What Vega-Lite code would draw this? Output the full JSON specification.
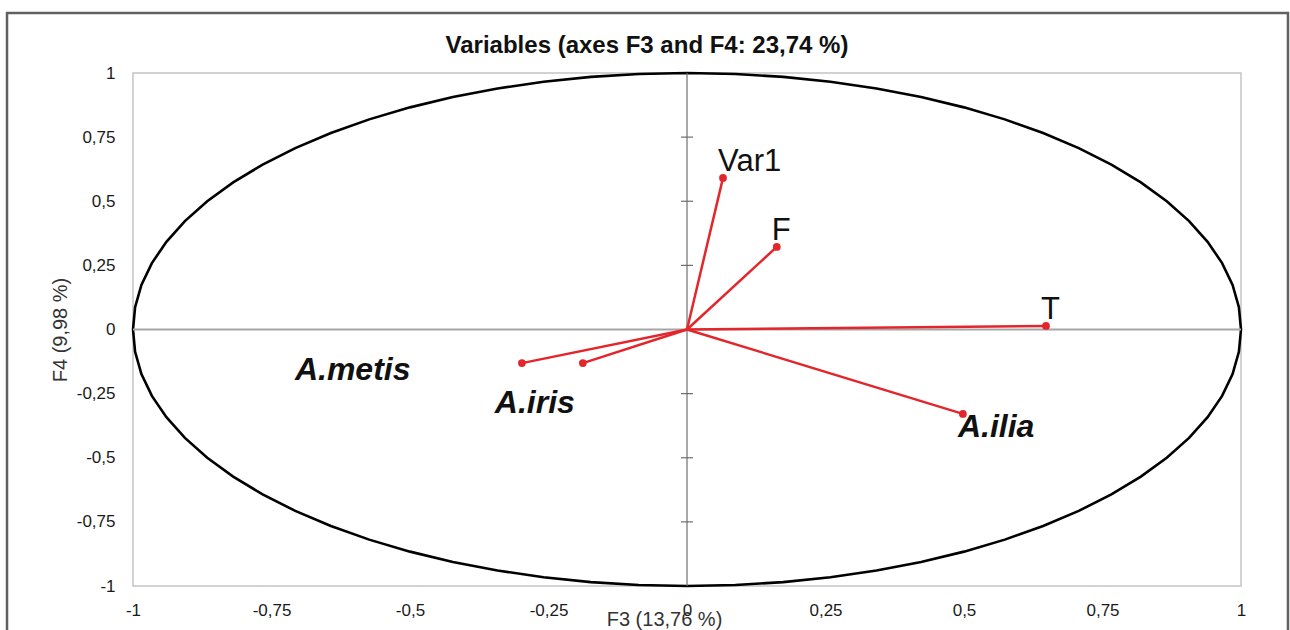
{
  "$schema": "https://vega.github.io/schema/vega-lite/v6.json",
  "autosize": "none",
  "width": 1108,
  "height": 513,
  "padding": {"left": 133, "top": 73, "right": 49, "bottom": 44},
  "background": "white",
  "title": {
    "text": "Variables (axes F3 and F4: 23,74 %)",
    "font": "Liberation Sans",
    "fontSize": 24,
    "fontWeight": "bold",
    "color": "#111111",
    "anchor": "middle",
    "frame": "group",
    "dx": -40,
    "baseline": "alphabetic",
    "offset": -65
  },
  "data": {"values": [{"origin": 0}]},
  "datasets": {
    "vars": [
      {"name": "Var1", "kind": "var", "x": 0.065, "y": 0.591},
      {"name": "F", "kind": "var", "x": 0.162, "y": 0.322},
      {"name": "T", "kind": "var", "x": 0.648, "y": 0.014},
      {"name": "A.ilia", "kind": "species", "x": 0.498, "y": -0.329},
      {"name": "A.metis", "kind": "species", "x": -0.298, "y": -0.131},
      {"name": "A.iris", "kind": "species", "x": -0.188, "y": -0.131}
    ],
    "ticks": [
      {"v": -0.75}, {"v": -0.5}, {"v": -0.25}, {"v": 0.25}, {"v": 0.5}, {"v": 0.75}
    ],
    "circle": [
      {"a": 0, "cx": 1, "cy": 0}, {"a": 5, "cx": 0.9962, "cy": 0.0872}, {"a": 10, "cx": 0.9848, "cy": 0.1736},
      {"a": 15, "cx": 0.9659, "cy": 0.2588}, {"a": 20, "cx": 0.9397, "cy": 0.342}, {"a": 25, "cx": 0.9063, "cy": 0.4226},
      {"a": 30, "cx": 0.866, "cy": 0.5}, {"a": 35, "cx": 0.8192, "cy": 0.5736}, {"a": 40, "cx": 0.766, "cy": 0.6428},
      {"a": 45, "cx": 0.7071, "cy": 0.7071}, {"a": 50, "cx": 0.6428, "cy": 0.766}, {"a": 55, "cx": 0.5736, "cy": 0.8192},
      {"a": 60, "cx": 0.5, "cy": 0.866}, {"a": 65, "cx": 0.4226, "cy": 0.9063}, {"a": 70, "cx": 0.342, "cy": 0.9397},
      {"a": 75, "cx": 0.2588, "cy": 0.9659}, {"a": 80, "cx": 0.1736, "cy": 0.9848}, {"a": 85, "cx": 0.0872, "cy": 0.9962},
      {"a": 90, "cx": 0, "cy": 1}, {"a": 95, "cx": -0.0872, "cy": 0.9962}, {"a": 100, "cx": -0.1736, "cy": 0.9848},
      {"a": 105, "cx": -0.2588, "cy": 0.9659}, {"a": 110, "cx": -0.342, "cy": 0.9397}, {"a": 115, "cx": -0.4226, "cy": 0.9063},
      {"a": 120, "cx": -0.5, "cy": 0.866}, {"a": 125, "cx": -0.5736, "cy": 0.8192}, {"a": 130, "cx": -0.6428, "cy": 0.766},
      {"a": 135, "cx": -0.7071, "cy": 0.7071}, {"a": 140, "cx": -0.766, "cy": 0.6428}, {"a": 145, "cx": -0.8192, "cy": 0.5736},
      {"a": 150, "cx": -0.866, "cy": 0.5}, {"a": 155, "cx": -0.9063, "cy": 0.4226}, {"a": 160, "cx": -0.9397, "cy": 0.342},
      {"a": 165, "cx": -0.9659, "cy": 0.2588}, {"a": 170, "cx": -0.9848, "cy": 0.1736}, {"a": 175, "cx": -0.9962, "cy": 0.0872},
      {"a": 180, "cx": -1, "cy": 0}, {"a": 185, "cx": -0.9962, "cy": -0.0872}, {"a": 190, "cx": -0.9848, "cy": -0.1736},
      {"a": 195, "cx": -0.9659, "cy": -0.2588}, {"a": 200, "cx": -0.9397, "cy": -0.342}, {"a": 205, "cx": -0.9063, "cy": -0.4226},
      {"a": 210, "cx": -0.866, "cy": -0.5}, {"a": 215, "cx": -0.8192, "cy": -0.5736}, {"a": 220, "cx": -0.766, "cy": -0.6428},
      {"a": 225, "cx": -0.7071, "cy": -0.7071}, {"a": 230, "cx": -0.6428, "cy": -0.766}, {"a": 235, "cx": -0.5736, "cy": -0.8192},
      {"a": 240, "cx": -0.5, "cy": -0.866}, {"a": 245, "cx": -0.4226, "cy": -0.9063}, {"a": 250, "cx": -0.342, "cy": -0.9397},
      {"a": 255, "cx": -0.2588, "cy": -0.9659}, {"a": 260, "cx": -0.1736, "cy": -0.9848}, {"a": 265, "cx": -0.0872, "cy": -0.9962},
      {"a": 270, "cx": 0, "cy": -1}, {"a": 275, "cx": 0.0872, "cy": -0.9962}, {"a": 280, "cx": 0.1736, "cy": -0.9848},
      {"a": 285, "cx": 0.2588, "cy": -0.9659}, {"a": 290, "cx": 0.342, "cy": -0.9397}, {"a": 295, "cx": 0.4226, "cy": -0.9063},
      {"a": 300, "cx": 0.5, "cy": -0.866}, {"a": 305, "cx": 0.5736, "cy": -0.8192}, {"a": 310, "cx": 0.6428, "cy": -0.766},
      {"a": 315, "cx": 0.7071, "cy": -0.7071}, {"a": 320, "cx": 0.766, "cy": -0.6428}, {"a": 325, "cx": 0.8192, "cy": -0.5736},
      {"a": 330, "cx": 0.866, "cy": -0.5}, {"a": 335, "cx": 0.9063, "cy": -0.4226}, {"a": 340, "cx": 0.9397, "cy": -0.342},
      {"a": 345, "cx": 0.9659, "cy": -0.2588}, {"a": 350, "cx": 0.9848, "cy": -0.1736}, {"a": 355, "cx": 0.9962, "cy": -0.0872},
      {"a": 360, "cx": 1, "cy": 0}
    ]
  },
  "config": {
    "view": {"stroke": "#c4c4c4", "strokeWidth": 1.5},
    "axis": {
      "domain": false,
      "ticks": false,
      "grid": false,
      "labelFont": "Liberation Sans",
      "labelFontSize": 17,
      "labelColor": "#1a1a1a",
      "labelFlush": false,
      "labelOverlap": false,
      "titleFont": "Liberation Sans",
      "titleFontSize": 20,
      "titleFontWeight": "normal",
      "titleColor": "#333333"
    }
  },
  "layer": [
    {
      "data": {"name": "circle"},
      "mark": {"type": "line", "color": "#000000", "strokeWidth": 2.6},
      "encoding": {
        "x": {
          "field": "cx",
          "type": "quantitative",
          "scale": {"domain": [-1, 1], "nice": false, "zero": false},
          "axis": {
            "title": "F3 (13,76 %)",
            "values": [-1, -0.75, -0.5, -0.25, 0, 0.25, 0.5, 0.75, 1],
            "labelExpr": "replace(toString(datum.value), '.', ',')",
            "labelPadding": 16,
            "titleX": 531,
            "titleY": 39,
            "titleAlign": "center",
            "titleBaseline": "alphabetic"
          }
        },
        "y": {
          "field": "cy",
          "type": "quantitative",
          "scale": {"domain": [-1, 1], "nice": false, "zero": false},
          "axis": {
            "title": "F4 (9,98 %)",
            "values": [-1, -0.75, -0.5, -0.25, 0, 0.25, 0.5, 0.75, 1],
            "labelExpr": "replace(toString(datum.value), '.', ',')",
            "labelPadding": 18,
            "titleX": -67,
            "titleBaseline": "alphabetic"
          }
        },
        "order": {"field": "a", "type": "quantitative"}
      }
    },
    {
      "mark": {"type": "rect", "fillOpacity": 0, "stroke": "#606060", "strokeWidth": 2.5, "clip": false},
      "encoding": {
        "x": {"datum": -1.2274, "type": "quantitative"},
        "x2": {"datum": 1.0848},
        "y": {"datum": 1.234, "type": "quantitative"},
        "y2": {"datum": -1.22}
      }
    },
    {
      "mark": {"type": "rule", "color": "#a6a6a6", "strokeWidth": 2},
      "encoding": {
        "x": {"datum": -1, "type": "quantitative"},
        "x2": {"datum": 1},
        "y": {"datum": 0, "type": "quantitative"}
      }
    },
    {
      "mark": {"type": "rule", "color": "#6e6e6e", "strokeWidth": 1.2},
      "encoding": {
        "y": {"datum": -1, "type": "quantitative"},
        "y2": {"datum": 1},
        "x": {"datum": 0, "type": "quantitative"}
      }
    },
    {
      "data": {"name": "ticks"},
      "mark": {"type": "rule", "color": "#6e6e6e", "strokeWidth": 1.2},
      "encoding": {
        "y": {"field": "v", "type": "quantitative"},
        "x": {"datum": -0.0108, "type": "quantitative"},
        "x2": {"datum": 0.0108}
      }
    },
    {
      "data": {"name": "vars"},
      "mark": {"type": "rule", "color": "#e3262b", "strokeWidth": 2.5},
      "encoding": {
        "x": {"field": "x", "type": "quantitative"},
        "y": {"field": "y", "type": "quantitative"},
        "x2": {"datum": 0},
        "y2": {"datum": 0}
      }
    },
    {
      "data": {"name": "vars"},
      "mark": {"type": "point", "filled": true, "color": "#e3262b", "size": 60, "opacity": 1},
      "encoding": {
        "x": {"field": "x", "type": "quantitative"},
        "y": {"field": "y", "type": "quantitative"}
      }
    },
    {
      "data": {"name": "vars"},
      "transform": [{"filter": "datum.kind === 'var'"}],
      "mark": {"type": "text", "align": "left", "baseline": "alphabetic", "dx": -5, "dy": -7, "font": "Liberation Sans", "fontSize": 31, "color": "#111111"},
      "encoding": {
        "x": {"field": "x", "type": "quantitative"},
        "y": {"field": "y", "type": "quantitative"},
        "text": {"field": "name"}
      }
    },
    {
      "data": {"name": "vars"},
      "transform": [{"filter": "datum.name === 'A.metis'"}],
      "mark": {"type": "text", "align": "left", "baseline": "alphabetic", "dx": -227, "dy": 17, "font": "Liberation Sans", "fontSize": 32, "fontWeight": "bold", "fontStyle": "italic", "color": "#111111"},
      "encoding": {
        "x": {"field": "x", "type": "quantitative"},
        "y": {"field": "y", "type": "quantitative"},
        "text": {"field": "name"}
      }
    },
    {
      "data": {"name": "vars"},
      "transform": [{"filter": "datum.name === 'A.iris'"}],
      "mark": {"type": "text", "align": "left", "baseline": "alphabetic", "dx": -88, "dy": 50, "font": "Liberation Sans", "fontSize": 32, "fontWeight": "bold", "fontStyle": "italic", "color": "#111111"},
      "encoding": {
        "x": {"field": "x", "type": "quantitative"},
        "y": {"field": "y", "type": "quantitative"},
        "text": {"field": "name"}
      }
    },
    {
      "data": {"name": "vars"},
      "transform": [{"filter": "datum.name === 'A.ilia'"}],
      "mark": {"type": "text", "align": "left", "baseline": "alphabetic", "dx": -5, "dy": 23, "font": "Liberation Sans", "fontSize": 32, "fontWeight": "bold", "fontStyle": "italic", "color": "#111111"},
      "encoding": {
        "x": {"field": "x", "type": "quantitative"},
        "y": {"field": "y", "type": "quantitative"},
        "text": {"field": "name"}
      }
    }
  ]
}
